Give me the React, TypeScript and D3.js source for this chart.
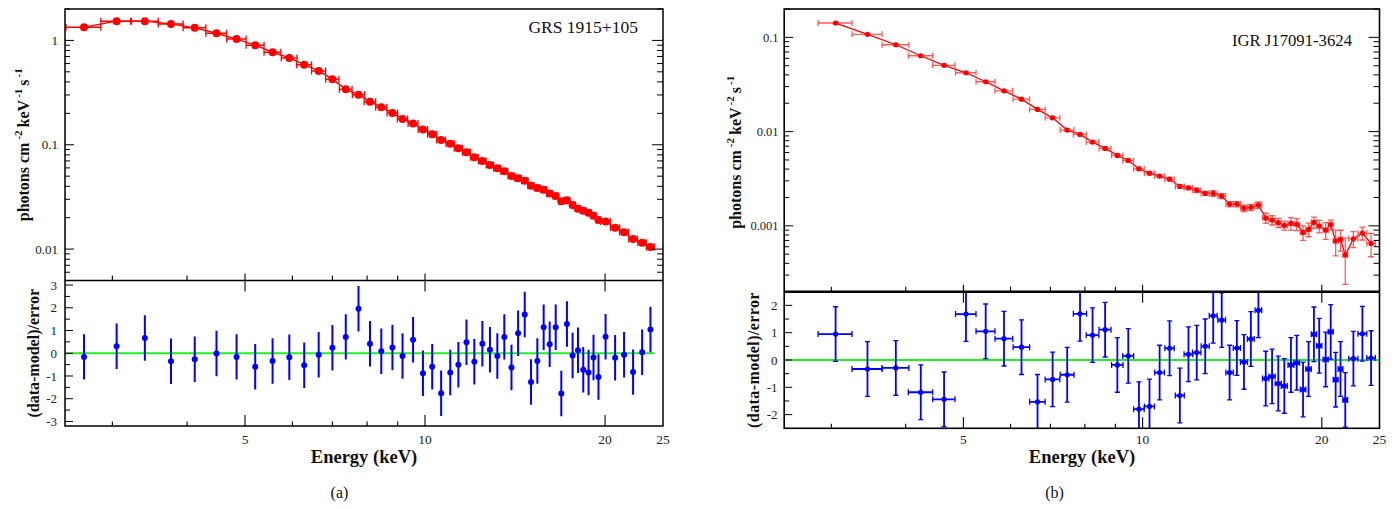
import React from "react";
import * as d3 from "d3";

// ---------------- data: panel (a) GRS 1915+105 ----------------
const energyA = [2.69, 3.05, 3.40, 3.76, 4.12, 4.48, 4.84, 5.20, 5.56, 5.93, 6.28, 6.64, 7.00, 7.37, 7.74, 8.09, 8.45, 8.82, 9.17, 9.55, 9.92, 10.28, 10.64, 11.02, 11.37, 11.73, 12.09, 12.47, 12.84, 13.21, 13.57, 13.95, 14.31, 14.68, 15.04, 15.41, 15.79, 16.16, 16.54, 16.90, 17.27, 17.65, 18.02, 18.39, 18.77, 19.13, 19.50, 20.04, 20.79, 21.52, 22.28, 23.07, 23.82];
const binHalfA = [0.18, 0.18, 0.18, 0.18, 0.18, 0.18, 0.18, 0.18, 0.18, 0.18, 0.18, 0.18, 0.18, 0.18, 0.18, 0.18, 0.18, 0.18, 0.18, 0.18, 0.18, 0.18, 0.18, 0.18, 0.18, 0.18, 0.18, 0.18, 0.18, 0.18, 0.18, 0.18, 0.18, 0.18, 0.18, 0.18, 0.18, 0.18, 0.18, 0.18, 0.18, 0.18, 0.18, 0.18, 0.18, 0.18, 0.18, 0.37, 0.37, 0.37, 0.37, 0.37, 0.37];
const fluxA = [1.34, 1.53, 1.53, 1.44, 1.32, 1.17, 1.03, 0.90, 0.77, 0.68, 0.585, 0.51, 0.425, 0.340, 0.302, 0.259, 0.229, 0.202, 0.177, 0.160, 0.140, 0.126, 0.111, 0.102, 0.0926, 0.0848, 0.0759, 0.0700, 0.0641, 0.0595, 0.0557, 0.0503, 0.0478, 0.0451, 0.0404, 0.0384, 0.0370, 0.0341, 0.0322, 0.0288, 0.0294, 0.0264, 0.0243, 0.0233, 0.0223, 0.0209, 0.0190, 0.0184, 0.0160, 0.0145, 0.0125, 0.0115, 0.0105];
const residA = [-0.16, 0.31, 0.67, -0.35, -0.26, -0.01, -0.16, -0.59, -0.34, -0.18, -0.53, -0.07, 0.24, 0.72, 1.96, 0.42, 0.09, 0.25, -0.12, 0.59, -0.88, -0.59, -1.76, -0.85, -0.51, 0.48, -0.37, 0.42, 0.15, -0.12, 0.72, -0.63, 0.88, 1.70, -1.26, -0.34, 1.14, 0.40, 1.14, -1.77, 1.29, -0.10, 0.13, -0.73, -0.85, -0.19, -1.04, 0.73, -0.20, -0.07, -0.83, 0.04, 1.04];

// ---------------- data: panel (b) IGR J17091-3624 ----------------
const energyB = [3.05, 3.45, 3.85, 4.24, 4.64, 5.05, 5.45, 5.85, 6.26, 6.66, 7.06, 7.47, 7.85, 8.24, 8.65, 9.07, 9.46, 9.86, 10.27, 10.68, 11.1, 11.55, 11.94, 12.33, 12.74, 13.14, 13.58, 14.0, 14.4, 14.8, 15.2, 15.65, 16.1, 16.5, 16.9, 17.3, 17.75, 18.15, 18.6, 19.0, 19.4, 19.8, 20.3, 20.7, 21.1, 21.5, 21.9, 22.6, 23.4, 24.2];
const binHalfB = [0.2, 0.2, 0.2, 0.2, 0.2, 0.2, 0.2, 0.2, 0.2, 0.2, 0.2, 0.2, 0.2, 0.2, 0.2, 0.2, 0.2, 0.2, 0.2, 0.2, 0.2, 0.2, 0.2, 0.2, 0.2, 0.2, 0.2, 0.2, 0.2, 0.2, 0.2, 0.2, 0.2, 0.2, 0.2, 0.2, 0.2, 0.2, 0.2, 0.2, 0.2, 0.2, 0.2, 0.2, 0.2, 0.2, 0.2, 0.4, 0.4, 0.4];
const fluxB = [0.142, 0.1076, 0.0835, 0.0638, 0.0505, 0.0421, 0.0338, 0.0271, 0.0221, 0.0172, 0.0140, 0.01037, 0.00933, 0.00774, 0.00663, 0.00559, 0.00494, 0.00403, 0.00362, 0.00337, 0.00313, 0.00262, 0.00253, 0.00239, 0.00221, 0.00221, 0.00207, 0.00170, 0.00170, 0.00154, 0.00157, 0.00166, 0.00121, 0.00115, 0.00108, 0.00101, 0.00106, 0.00104, 0.000851, 0.000916, 0.00109, 0.000993, 0.000900, 0.00103, 0.000689, 0.000718, 0.000489, 0.000728, 0.000837, 0.000650];
const fluxErrB = [0.0028, 0.0022, 0.0017, 0.0013, 0.0010, 0.00084, 0.00068, 0.00054, 0.00044, 0.00035, 0.00042, 0.00031, 0.00028, 0.00023, 0.00023, 0.00020, 0.00017, 0.00016, 0.00014, 0.00013, 0.00013, 0.00012, 0.00011, 0.00012, 0.00011, 0.00015, 0.00012, 0.00011, 0.00011, 0.00012, 0.00012, 0.00013, 0.00015, 0.00013, 0.00012, 0.00011, 0.00016, 0.00015, 0.00015, 0.00015, 0.00015, 0.00015, 0.00018, 0.00012, 0.00021, 0.00018, 0.00025, 0.00014, 0.00013, 0.00018];
const residB = [0.95, -0.33, -0.29, -1.18, -1.44, 1.68, 1.05, 0.78, 0.47, -1.53, -0.71, -0.54, 1.69, 0.91, 1.11, -0.18, 0.15, -1.80, -1.70, -0.46, 0.43, -1.30, 0.21, 0.27, 0.50, 1.62, 1.46, -0.46, 0.44, -0.07, 0.77, 1.82, -0.68, -0.60, -0.86, -0.95, -0.18, -0.10, -1.08, -0.33, 0.94, 0.52, 0.02, 1.03, -0.72, -0.33, -1.46, 0.05, 0.96, 0.07];

// ---------------- axis tick values ----------------
const energyTicks = [3, 4, 5, 6, 7, 8, 9, 10, 20];
const energyMajor = [5, 10, 20];
const energyLabels = [5, 10, 20, 25];
const residMajorA = [-3, -2, -1, 0, 1, 2, 3];
const residMajorB = [-2, -1, 0, 1, 2];

const FONT = "'Liberation Serif', 'Times New Roman', Times, serif";
const isDecade = (v: number) => Math.abs(Math.log10(v) - Math.round(Math.log10(v))) < 1e-9;
const fmt = d3.format("~g");

function logYAxis(scale: any, xl: number, xr: number, labelX: number, fs: number) {
  const ticks: number[] = scale.ticks();
  return ticks.map((t, i) => {
    const y = scale(t);
    const maj = isDecade(t);
    return (
      <g key={"ly" + i}>
        <line x1={xl} x2={xl + (maj ? 9 : 5)} y1={y} y2={y} stroke="#000" strokeWidth={1} />
        <line x1={xr} x2={xr - (maj ? 11 : 6)} y1={y} y2={y} stroke="#000" strokeWidth={1} />
        {maj && (
          <text x={labelX} y={y} dy="0.35em" textAnchor="end" fontSize={fs} fill="#222">
            {fmt(t)}
          </text>
        )}
      </g>
    );
  });
}

function linYAxis(scale: any, xl: number, majors: number[], labelX: number, fs: number) {
  const [lo, hi] = scale.domain();
  const out: any[] = [];
  majors.forEach((m, i) => {
    const y = scale(m);
    out.push(<line key={"rm" + i} x1={xl} x2={xl + 8} y1={y} y2={y} stroke="#000" strokeWidth={1} />);
    out.push(
      <text key={"rl" + i} x={labelX} y={y} dy="0.35em" textAnchor="end" fontSize={fs} fill="#222">
        {String(m)}
      </text>
    );
  });
  for (let v = Math.ceil(lo * 2) / 2; v <= hi; v += 0.5) {
    if (Math.abs(v - Math.round(v)) < 1e-9) continue;
    const y = scale(v);
    out.push(<line key={"rn" + v} x1={xl} x2={xl + 5} y1={y} y2={y} stroke="#000" strokeWidth={1} />);
  }
  return out;
}

function xAxes(scale: any, yMid: number, yBot: number, fs: number) {
  const out: any[] = [];
  energyTicks.forEach((t, i) => {
    const x = scale(t);
    const maj = energyMajor.includes(t);
    out.push(<line key={"xa" + i} x1={x} x2={x} y1={yMid} y2={yMid - (maj ? 7 : 5)} stroke="#000" strokeWidth={1.1} />);
    if (maj) out.push(<line key={"xb" + i} x1={x} x2={x} y1={yMid} y2={yMid + 11} stroke="#000" strokeWidth={1.1} />);
    out.push(<line key={"xc" + i} x1={x} x2={x} y1={yBot} y2={yBot - (maj ? 11 : 4.5)} stroke="#000" strokeWidth={1.1} />);
  });
  energyLabels.forEach((t, i) => {
    out.push(
      <text key={"xl" + i} x={scale(t)} y={444} textAnchor="middle" fontSize={fs} fill="#222">
        {String(t)}
      </text>
    );
  });
  return out;
}

export default function App() {
  // panel (a)
  const xA = d3.scaleLog().domain([2.5, 25]).range([65, 663]);
  const yA = d3.scaleLog().domain([0.005, 2]).range([280.5, 9]);
  const rA = d3.scaleLinear().domain([-3.2, 3.2]).range([426, 280.5]);
  // panel (b)
  const xB = d3.scaleLog().domain([2.5, 25]).range([784.2, 1379.5]);
  const yB = d3.scaleLog().domain([0.0002, 0.2]).range([291.7, 9]);
  const rB = d3.scaleLinear().domain([-2.5, 2.5]).range([428.3, 291.7]);

  const lineA = d3.line<number>().x((_, i) => xA(energyA[i])).y((d) => yA(d));
  const lineB = d3.line<number>().x((_, i) => xB(energyB[i])).y((d) => yB(d));

  const [aL, aR] = xA.range();
  const [bL, bR] = xB.range();
  const aTop = yA.range()[1], aMid = yA.range()[0], aBot = rA.range()[0];
  const bTop = yB.range()[1], bMid = yB.range()[0], bBot = rB.range()[0];

  const RED = "#ff0000";
  const BLUE = "#0000ff";
  const GREEN = "#22ee22";

  return (
    <svg
      width={1400}
      height={509}
      style={{ position: "absolute", left: 0, top: 0, display: "block", background: "#fff" }}
      fontFamily={FONT}
    >
      <defs>
        <clipPath id="clipAt"><rect x={aL} y={aTop} width={aR - aL} height={aMid - aTop} /></clipPath>
        <clipPath id="clipAr"><rect x={aL} y={aMid} width={aR - aL} height={aBot - aMid} /></clipPath>
        <clipPath id="clipBt"><rect x={bL} y={bTop} width={bR - bL} height={bMid - bTop} /></clipPath>
        <clipPath id="clipBr"><rect x={bL} y={bMid} width={bR - bL} height={bBot - bMid} /></clipPath>
      </defs>

      {/* ===================== PANEL (a) ===================== */}
      <g clipPath="url(#clipAt)">
        <path d={lineA(fluxA) || ""} fill="none" stroke={RED} strokeWidth={1.4} />
        {energyA.map((e, i) => {
          const x1 = xA(e - binHalfA[i]);
          const x2 = xA(e + binHalfA[i]);
          const y = yA(fluxA[i]);
          return (
            <g key={"as" + i}>
              <line x1={x1} x2={x2} y1={y} y2={y} stroke={RED} strokeWidth={1.5} />
              <line x1={x1} x2={x1} y1={y - 3.5} y2={y + 3.5} stroke={RED} strokeWidth={1.3} />
              <line x1={x2} x2={x2} y1={y - 3.5} y2={y + 3.5} stroke={RED} strokeWidth={1.3} />
              <circle cx={xA(e)} cy={y} r={4} fill={RED} />
            </g>
          );
        })}
      </g>
      <g clipPath="url(#clipAr)">
        <line
          x1={xA(energyA[0] - binHalfA[0])}
          x2={xA(energyA[energyA.length - 1] + binHalfA[binHalfA.length - 1])}
          y1={rA(0)}
          y2={rA(0)}
          stroke={GREEN}
          strokeWidth={2}
        />
        {energyA.map((e, i) => {
          const x = xA(e);
          return (
            <g key={"ar" + i}>
              <line x1={x} x2={x} y1={rA(residA[i] - 1)} y2={rA(residA[i] + 1)} stroke={BLUE} strokeWidth={2} />
              <circle cx={x} cy={rA(residA[i])} r={3} fill={BLUE} />
            </g>
          );
        })}
      </g>
      {/* frame (a) */}
      <rect x={aL} y={aTop} width={aR - aL} height={aBot - aTop} fill="none" stroke="#000" strokeWidth={1.5} />
      <line x1={aL} x2={aR} y1={aMid} y2={aMid} stroke="#000" strokeWidth={1.6} />
      {logYAxis(yA, aL, aR, 58, 13)}
      {linYAxis(rA, aL, residMajorA, 57, 13)}
      {xAxes(xA, aMid, aBot, 13.5)}
      <text x={638} y={33} textAnchor="end" fontSize={17.5} fill="#111">GRS 1915+105</text>
      <text
        transform={`translate(29,${(aTop + aMid) / 2}) rotate(-90)`}
        textAnchor="middle"
        fontWeight="bold"
        fontSize={16}
        fill="#111"
      >
        photons cm<tspan dx={3} dy={-7} fontSize={11}>-2</tspan>
        <tspan dx={3} dy={7}>keV</tspan>
        <tspan dx={2} dy={-7} fontSize={11}>-1</tspan>
        <tspan dx={3} dy={7}>s</tspan>
        <tspan dx={2} dy={-7} fontSize={11}>-1</tspan>
      </text>
      <text
        transform={`translate(38.5,${(aMid + aBot) / 2}) rotate(-90)`}
        textAnchor="middle"
        fontWeight="bold"
        fontSize={16}
        fill="#111"
      >
        (data-model)/error
      </text>
      <text x={364} y={463} textAnchor="middle" fontWeight="bold" fontSize={18.5} fill="#111">Energy (keV)</text>
      <text x={339.5} y={498} textAnchor="middle" fontSize={16} fill="#111">(a)</text>

      {/* ===================== PANEL (b) ===================== */}
      <g clipPath="url(#clipBt)">
        <path d={lineB(fluxB) || ""} fill="none" stroke={RED} strokeWidth={1.3} />
        {energyB.map((e, i) => {
          const x1 = xB(e - binHalfB[i]);
          const x2 = xB(e + binHalfB[i]);
          const x = xB(e);
          const y = yB(fluxB[i]);
          const yt = yB(fluxB[i] + fluxErrB[i]);
          const yb = yB(Math.max(fluxB[i] - fluxErrB[i], 1e-6));
          return (
            <g key={"bs" + i} stroke="#ff4040" strokeOpacity={0.85} strokeWidth={1.3}>
              <line x1={x1} x2={x2} y1={y} y2={y} />
              <line x1={x1} x2={x1} y1={y - 3} y2={y + 3} />
              <line x1={x2} x2={x2} y1={y - 3} y2={y + 3} />
              <line x1={x} x2={x} y1={yt} y2={yb} />
              <line x1={x - 3} x2={x + 3} y1={yt} y2={yt} />
              <line x1={x - 3} x2={x + 3} y1={yb} y2={yb} />
              <circle cx={x} cy={y} r={2.6} fill={RED} stroke="none" />
            </g>
          );
        })}
      </g>
      <g clipPath="url(#clipBr)">
        <line x1={bL} x2={bR} y1={rB(0)} y2={rB(0)} stroke={GREEN} strokeWidth={2} />
        {energyB.map((e, i) => {
          const x1 = xB(e - binHalfB[i]);
          const x2 = xB(e + binHalfB[i]);
          const x = xB(e);
          const y = rB(residB[i]);
          const yt = rB(residB[i] + 1);
          const yb = rB(residB[i] - 1);
          return (
            <g key={"br" + i} stroke={BLUE} strokeWidth={1.8}>
              <line x1={x1} x2={x2} y1={y} y2={y} />
              <line x1={x1} x2={x1} y1={y - 3} y2={y + 3} strokeWidth={1.3} />
              <line x1={x2} x2={x2} y1={y - 3} y2={y + 3} strokeWidth={1.3} />
              <line x1={x} x2={x} y1={yt} y2={yb} />
              <line x1={x - 2.5} x2={x + 2.5} y1={yt} y2={yt} strokeWidth={1.3} />
              <line x1={x - 2.5} x2={x + 2.5} y1={yb} y2={yb} strokeWidth={1.3} />
              <circle cx={x} cy={y} r={2.6} fill={BLUE} stroke="none" />
            </g>
          );
        })}
      </g>
      {/* frame (b) */}
      <rect x={bL} y={bTop} width={bR - bL} height={bBot - bTop} fill="none" stroke="#000" strokeWidth={1.6} />
      <line x1={bL} x2={bR} y1={bMid} y2={bMid} stroke="#000" strokeWidth={2.4} />
      {logYAxis(yB, bL, bR, 778.5, 12.5)}
      {linYAxis(rB, bL, residMajorB, 777.5, 13)}
      {xAxes(xB, bMid, bBot, 13.5)}
      <text x={1352} y={46} textAnchor="end" fontSize={16.7} fill="#111">IGR J17091-3624</text>
      <text
        transform={`translate(741,${(bTop + bMid) / 2 + 2}) rotate(-90)`}
        textAnchor="middle"
        fontWeight="bold"
        fontSize={16}
        fill="#111"
      >
        photons cm<tspan dx={3} dy={-7} fontSize={11}>-2</tspan>
        <tspan dx={3} dy={7}>keV</tspan>
        <tspan dx={2} dy={-7} fontSize={11}>-2</tspan>
        <tspan dx={3} dy={7}>s</tspan>
        <tspan dx={2} dy={-7} fontSize={11}>-1</tspan>
      </text>
      <text
        transform={`translate(758.5,${(bMid + bBot) / 2}) rotate(-90)`}
        textAnchor="middle"
        fontWeight="bold"
        fontSize={16}
        letterSpacing={0.4}
        fill="#111"
      >
        (data-model)/error
      </text>
      <text x={1082} y={463} textAnchor="middle" fontWeight="bold" fontSize={18.5} fill="#111">Energy (keV)</text>
      <text x={1054.5} y={498} textAnchor="middle" fontSize={16} fill="#111">(b)</text>
    </svg>
  );
}
